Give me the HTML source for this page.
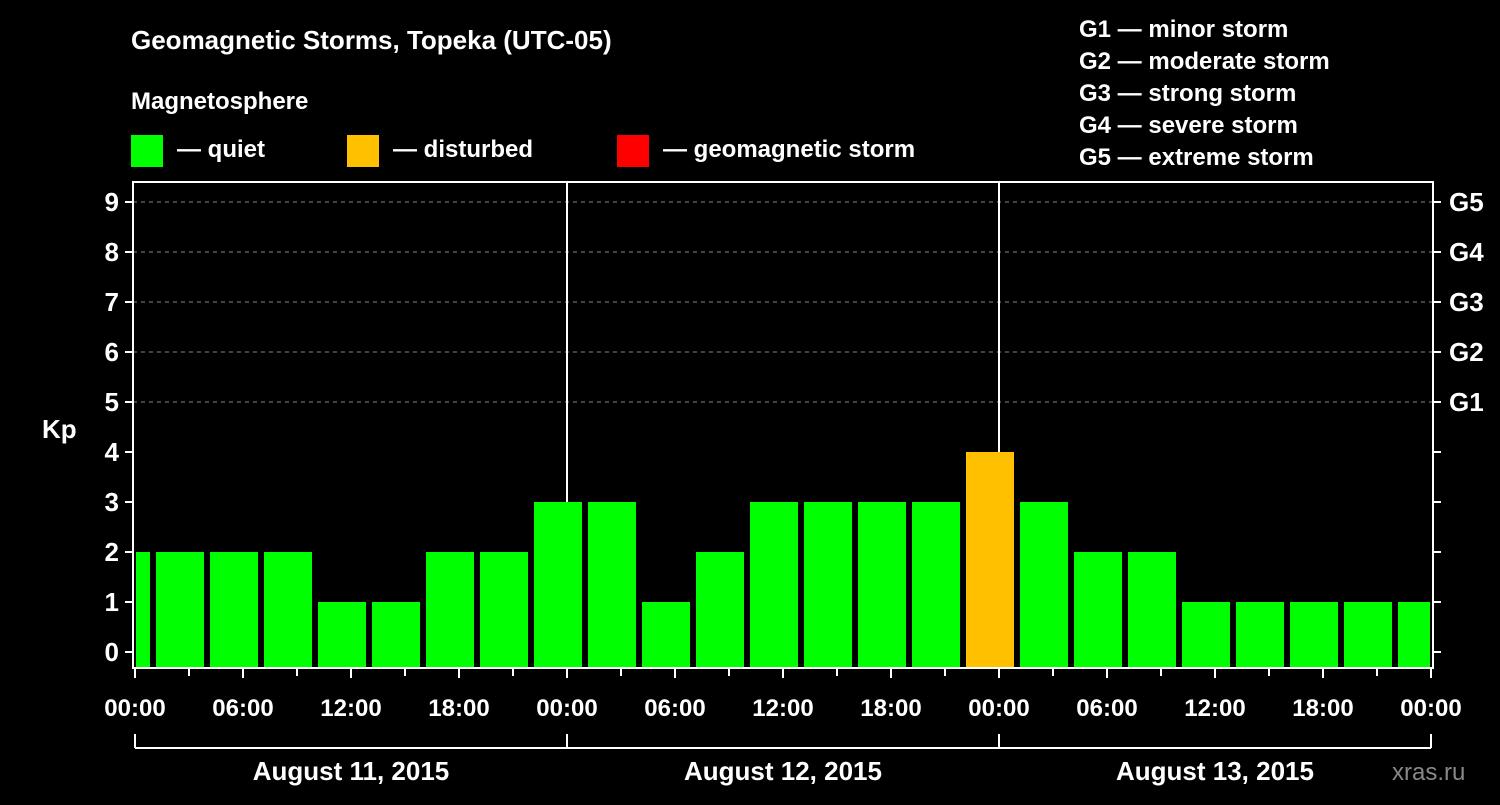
<!DOCTYPE html>
<html><head><meta charset="utf-8"><style>
body{margin:0;background:#000;}
svg text{font-family:"Liberation Sans",Arial,sans-serif;font-weight:bold;fill:#fff;}
</style></head><body>
<svg id="chart" width="1500" height="800" xmlns="http://www.w3.org/2000/svg">
<rect width="1500" height="800" fill="#000"/>
<text x="131" y="49" font-size="26">Geomagnetic Storms, Topeka (UTC-05)</text>
<text x="131" y="109" font-size="24">Magnetosphere</text>
<rect x="131" y="135" width="32" height="32" fill="#00ff00"/>
<text x="177" y="157" font-size="24">— quiet</text>
<rect x="347" y="135" width="32" height="32" fill="#ffc000"/>
<text x="393" y="157" font-size="24">— disturbed</text>
<rect x="617" y="135" width="32" height="32" fill="#ff0000"/>
<text x="663" y="157" font-size="24">— geomagnetic storm</text>
<g font-size="24">
<text x="1079" y="37">G1 — minor storm</text>
<text x="1079" y="69">G2 — moderate storm</text>
<text x="1079" y="101">G3 — strong storm</text>
<text x="1079" y="133">G4 — severe storm</text>
<text x="1079" y="165">G5 — extreme storm</text>
</g>
<text x="42" y="438" font-size="26">Kp</text>
<text x="1392" y="780" font-size="24" fill="#888" style="fill:#888;font-weight:normal">xras.ru</text>
<g id="g"></g>
</svg>
<script>
const kpValues=[2,2,2,2,1,1,2,2,3,3,1,2,3,3,3,3,4,3,2,2,1,1,1,1,1];
const yTicks=[0,1,2,3,4,5,6,7,8,9];
const gLabels=["G1","G2","G3","G4","G5"];
const xTickLabels=["00:00","06:00","12:00","18:00","00:00","06:00","12:00","18:00","00:00","06:00","12:00","18:00","00:00"];
const dayLabels=["August 11, 2015","August 12, 2015","August 13, 2015"];
const X0=135,PXH=18,L=133,R=1433,T=182,B=668;
const x=h=>X0+h*PXH;
const y=v=>652-v*50;
const g=document.getElementById('g');
const NS='http://www.w3.org/2000/svg';
function mk(t,a){const e=document.createElementNS(NS,t);for(const k in a)e.setAttribute(k,a[k]);g.appendChild(e);return e;}
// grid
yTicks.forEach(v=>{if(v>=5){const e=mk('line',{x1:L,x2:R,y1:y(v),y2:y(v),stroke:'#888','stroke-dasharray':'4,4'});

}});
// day separators
for(let d=1;d<dayLabels.length;d++){const e=mk('line',{x1:x(d*24),x2:x(d*24),y1:T,y2:B,stroke:'#fff','stroke-width':2});

}
// bars
kpValues.forEach((v,i)=>{const s=-2+3*i;let x1=x(s)+3,x2=x(s)+51;x1=Math.max(x1,L+3);x2=Math.min(x2,R-3);
const col=v>=5?'#ff0000':(v>=4?'#ffc000':'#00ff00');
const e=mk('rect',{x:x1,y:y(v),width:x2-x1,height:B-y(v),fill:col});

});
// frame
const f=mk('rect',{x:L,y:T,width:R-L,height:B-T,fill:'none',stroke:'#fff','stroke-width':2});


// y ticks
yTicks.forEach(v=>{mk('line',{x1:L-8,x2:L,y1:y(v),y2:y(v),stroke:'#fff','stroke-width':2});
mk('line',{x1:R,x2:R+8,y1:y(v),y2:y(v),stroke:'#fff','stroke-width':2});
const t=mk('text',{x:L-14,y:y(v)+9,'font-size':26,'text-anchor':'end'});t.textContent=v;

});
gLabels.forEach((s,i)=>{const t=mk('text',{x:1449,y:y(5+i)+9,'font-size':26});t.textContent=s;

});
// x ticks
for(let h=0;h<=72;h+=3){mk('line',{x1:x(h),x2:x(h),y1:B,y2:B+(h%6==0?10:8),stroke:'#fff','stroke-width':2});}
xTickLabels.forEach((s,i)=>{const t=mk('text',{x:x(i*6),y:716,'font-size':24,'text-anchor':'middle'});t.textContent=s;

});
// bracket
const br=mk('line',{x1:x(0),x2:x(72),y1:748,y2:748,stroke:'#fff','stroke-width':2});


for(let d=0;d<=dayLabels.length;d++)mk('line',{x1:x(d*24),x2:x(d*24),y1:734,y2:748,stroke:'#fff','stroke-width':2});
dayLabels.forEach((s,i)=>{const t=mk('text',{x:x(i*24+12),y:780,'font-size':26,'text-anchor':'middle'});t.textContent=s;

});
</script>
</body></html>
